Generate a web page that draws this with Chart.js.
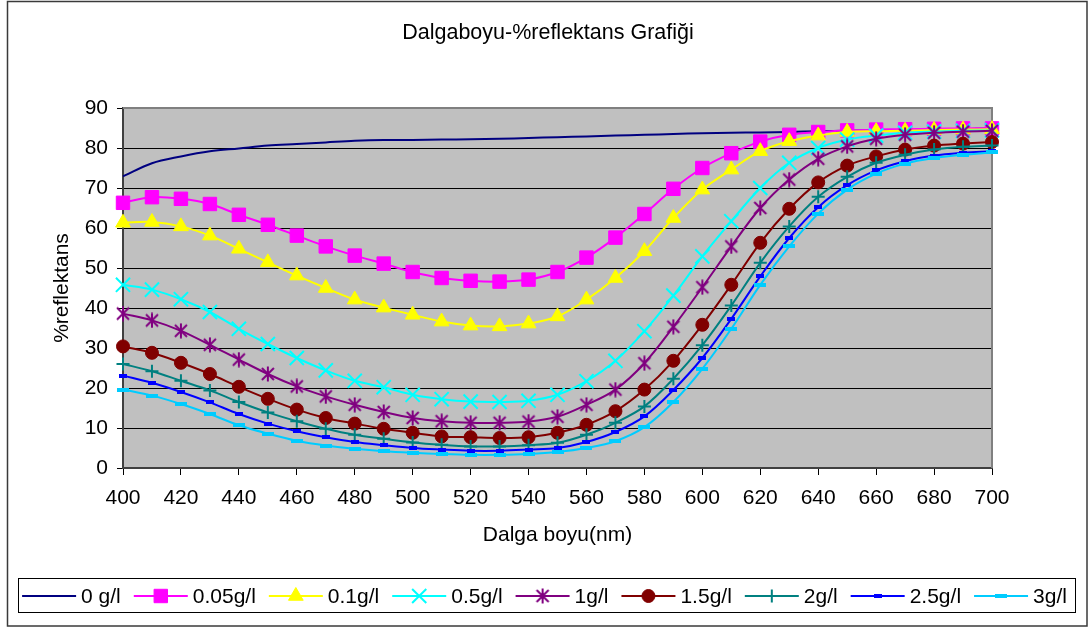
<!DOCTYPE html>
<html>
<head>
<meta charset="utf-8">
<title>Dalgaboyu-%reflektans Grafiği</title>
<script src="https://cdn.jsdelivr.net/npm/chart.js@4/dist/chart.umd.min.js"></script>
<style>
  html, body { margin: 0; padding: 0; background: #ffffff; }
  canvas { display: block; }
</style>
</head>
<body>
<canvas id="chart" width="1089" height="628"></canvas>
<script>
// Wavelengths (nm) measured every 10 nm
const wavelengths = [400, 410, 420, 430, 440, 450, 460, 470, 480, 490, 500,
                     510, 520, 530, 540, 550, 560, 570, 580, 590, 600,
                     610, 620, 630, 640, 650, 660, 670, 680, 690, 700];

const seriesLabels = ['0 g/l', '0.05g/l', '0.1g/l', '0.5g/l', '1g/l', '1.5g/l', '2g/l', '2.5g/l', '3g/l'];

const chartTitle = 'Dalgaboyu-%reflektans Grafiği';

// % reflectance per dye concentration
const refl0 = [72.9, 76.2, 77.9, 79.2, 79.9, 80.6, 81.0, 81.4, 81.8, 82.0, 82.0,
               82.1, 82.2, 82.3, 82.5, 82.7, 82.9, 83.1, 83.3, 83.5, 83.7,
               83.8, 83.9, 84.0, 84.2, 84.3, 84.4, 84.5, 84.6, 84.7, 84.9];
const refl005 = [66.3, 67.7, 67.3, 66.0, 63.3, 60.8, 58.1, 55.4, 53.1, 51.1, 49.0,
                 47.5, 46.8, 46.6, 47.1, 49.0, 52.6, 57.6, 63.5, 69.8, 75.0,
                 78.7, 81.6, 83.3, 84.0, 84.4, 84.6, 84.7, 84.8, 84.9, 84.9];
const refl01 = [61.3, 61.5, 60.4, 58.1, 54.8, 51.4, 48.1, 45.0, 42.1, 40.1, 38.3,
                36.6, 35.6, 35.4, 36.1, 37.9, 42.1, 47.5, 54.2, 62.5, 69.6,
                74.6, 79.2, 81.7, 83.1, 84.0, 84.2, 84.3, 84.5, 84.6, 84.7];
const refl05 = [45.8, 44.6, 42.2, 39.0, 34.8, 31.0, 27.5, 24.4, 21.8, 20.2, 18.3,
                17.2, 16.6, 16.5, 16.8, 18.3, 21.7, 26.8, 34.2, 43.1, 52.9,
                61.7, 70.0, 76.3, 80.0, 82.1, 83.1, 83.8, 84.1, 84.3, 84.4];
const refl1 = [38.6, 36.9, 34.3, 30.8, 27.1, 23.5, 20.4, 17.9, 15.8, 14.0, 12.5,
               11.7, 11.3, 11.3, 11.6, 12.8, 15.8, 19.6, 26.2, 35.3, 45.2,
               55.4, 65.0, 72.1, 77.3, 80.4, 82.3, 83.3, 83.8, 84.1, 84.3];
const refl15 = [30.4, 28.8, 26.3, 23.5, 20.3, 17.3, 14.6, 12.5, 11.1, 9.8, 8.8,
                7.9, 7.7, 7.5, 7.7, 8.8, 10.8, 14.2, 19.6, 26.8, 35.8,
                45.8, 56.3, 64.8, 71.4, 75.6, 77.9, 79.6, 80.6, 81.1, 81.5];
const refl2 = [26.0, 24.2, 21.8, 19.4, 16.5, 13.9, 11.7, 9.8, 8.3, 7.3, 6.4,
               5.8, 5.4, 5.4, 5.7, 6.3, 8.3, 11.3, 15.4, 22.3, 30.7,
               40.6, 51.3, 60.4, 67.8, 72.8, 76.3, 78.3, 79.6, 80.3, 80.6];
const refl25 = [23.1, 21.3, 19.0, 16.4, 13.5, 11.1, 9.2, 7.7, 6.5, 5.7, 5.0,
                4.6, 4.3, 4.3, 4.6, 5.0, 6.5, 9.0, 12.9, 19.5, 27.5,
                37.3, 47.9, 57.5, 65.2, 70.7, 74.4, 76.7, 78.1, 78.8, 79.2];
const refl3 = [19.6, 18.1, 16.0, 13.5, 10.7, 8.6, 6.8, 5.6, 4.8, 4.2, 3.8,
               3.5, 3.3, 3.3, 3.5, 4.0, 5.0, 6.7, 10.2, 16.5, 24.8,
               34.8, 45.8, 55.4, 63.6, 69.6, 73.6, 76.1, 77.5, 78.3, 78.9];

const seriesValues = [refl0, refl005, refl01, refl05, refl1, refl15, refl2, refl25, refl3];

const FONT = '"Liberation Sans", Arial, Helvetica, sans-serif';

// Small bitmap markers for styles Chart.js has no built-in shape for
function makeMarker(w, h, paint) {
  const c = document.createElement('canvas');
  c.width = w; c.height = h;
  paint(c.getContext('2d'), w, h);
  return c;
}
const starMarker = makeMarker(16, 16, (g) => {
  g.strokeStyle = '#800080';
  g.lineWidth = 2;
  g.beginPath();
  g.moveTo(2, 2); g.lineTo(14, 14);
  g.moveTo(14, 2); g.lineTo(2, 14);
  g.moveTo(8, 0.5); g.lineTo(8, 15.5);
  g.stroke();
});
const blueDash = makeMarker(8, 4, (g, w, h) => { g.fillStyle = '#0000FF'; g.fillRect(0, 0, w, h); });
const skyDash = makeMarker(12, 4, (g, w, h) => { g.fillStyle = '#00CCFF'; g.fillRect(0, 0, w, h); });

// Line colour and marker for each series
const seriesStyles = [
  { color: '#000080', pointStyle: false, radius: 0, markerWidth: 0 },
  { color: '#FF00FF', pointStyle: 'rect', radius: 9.5, markerWidth: 1 },
  { color: '#FFFF00', pointStyle: 'triangle', radius: 8.5, markerWidth: 1 },
  { color: '#00FFFF', pointStyle: 'crossRot', radius: 10, markerWidth: 2 },
  { color: '#800080', pointStyle: starMarker, radius: 8, markerWidth: 2 },
  { color: '#800000', pointStyle: 'circle', radius: 6.5, markerWidth: 1 },
  { color: '#008080', pointStyle: 'cross', radius: 6.5, markerWidth: 2 },
  { color: '#0000FF', pointStyle: blueDash, radius: 4, markerWidth: 0 },
  { color: '#00CCFF', pointStyle: skyDash, radius: 5, markerWidth: 0 }
];

const datasets = seriesLabels.map((label, i) => {
  const s = seriesStyles[i];
  return {
    label: label,
    data: wavelengths.map((w, k) => ({ x: w, y: seriesValues[i][k] })),
    borderColor: s.color,
    backgroundColor: s.color,
    borderWidth: 2,
    tension: 0.35,
    pointStyle: s.pointStyle === false ? 'circle' : s.pointStyle,
    pointRadius: s.radius,
    pointHoverRadius: s.radius,
    pointBackgroundColor: s.color,
    pointBorderColor: s.color,
    pointBorderWidth: s.markerWidth,
    clip: false,
    order: seriesLabels.length - i
  };
});

// White page, outer frame, title, grey plot area and its grey top/right edges
const frame = {
  id: 'frame',
  beforeDraw(chart) {
    const { ctx, chartArea: a } = chart;
    ctx.save();
    ctx.fillStyle = '#ffffff';
    ctx.fillRect(0, 0, chart.width, chart.height);
    ctx.strokeStyle = '#3a3a3a';
    ctx.lineWidth = 1.5;
    ctx.strokeRect(7.5, 1.5, 1079.5, 624.5);
    ctx.fillStyle = '#C0C0C0';
    ctx.fillRect(a.left, a.top, a.right - a.left, a.bottom - a.top);
    ctx.fillStyle = '#000000';
    ctx.font = '21.5px ' + FONT;
    ctx.textAlign = 'center';
    ctx.textBaseline = 'middle';
    ctx.fillText(chartTitle, 548, 33.5);
    ctx.restore();
  },
  beforeDatasetsDraw(chart) {
    const { ctx, chartArea: a } = chart;
    ctx.save();
    ctx.strokeStyle = '#808080';
    ctx.lineWidth = 2;
    ctx.beginPath();
    ctx.moveTo(a.left, a.top);
    ctx.lineTo(a.right, a.top);
    ctx.lineTo(a.right, a.bottom);
    ctx.stroke();
    ctx.restore();
  }
};

// Boxed legend below the axis: line sample with its marker, then the label
const boxedLegend = {
  id: 'boxedLegend',
  afterDraw(chart) {
    const { ctx } = chart;
    const sets = chart.data.datasets;
    const sampleLen = 54, textGap = 5, itemGap = 13, cy = 596;
    ctx.save();
    ctx.font = '21px ' + FONT;
    ctx.textBaseline = 'middle';
    ctx.textAlign = 'left';
    const widths = sets.map(d => ctx.measureText(d.label).width);
    let total = 0;
    widths.forEach(w => { total += sampleLen + textGap + w; });
    total += itemGap * (sets.length - 1);
    let x = chart.width / 2 - total / 2;

    ctx.strokeStyle = '#000000';
    ctx.lineWidth = 1;
    ctx.strokeRect(18.5, 578.5, 1057, 34);

    sets.forEach((d, i) => {
      const s = seriesStyles[i];
      ctx.strokeStyle = s.color;
      ctx.lineWidth = 2;
      ctx.beginPath();
      ctx.moveTo(x, cy);
      ctx.lineTo(x + sampleLen, cy);
      ctx.stroke();
      if (s.pointStyle !== false) {
        ctx.fillStyle = s.color;
        ctx.strokeStyle = s.color;
        ctx.lineWidth = s.markerWidth;
        Chart.helpers.drawPoint(ctx, {
          pointStyle: s.pointStyle,
          radius: s.radius,
          rotation: 0,
          borderWidth: s.markerWidth
        }, x + sampleLen / 2, cy);
      }
      ctx.fillStyle = '#000000';
      ctx.fillText(d.label, x + sampleLen + textGap, cy + 1);
      x += sampleLen + textGap + widths[i] + itemGap;
    });
    ctx.restore();
  }
};

new Chart(document.getElementById('chart'), {
  type: 'line',
  data: { datasets: datasets },
  plugins: [frame, boxedLegend],
  options: {
    responsive: false,
    animation: false,
    devicePixelRatio: 1,
    events: [],
    layout: { padding: { left: 0, right: 97, top: 108, bottom: 70 } },
    plugins: {
      legend: { display: false },
      tooltip: { enabled: false },
      title: { display: false }
    },
    scales: {
      x: {
        type: 'linear',
        min: 400,
        max: 700,
        afterFit(scale) { scale.height = 90; },
        ticks: {
          stepSize: 20,
          color: '#000000',
          font: { family: FONT, size: 21 },
          padding: 11,
          maxRotation: 0
        },
        grid: {
          drawOnChartArea: false,
          drawTicks: true,
          tickLength: 7,
          color: '#000000',
          tickColor: '#000000'
        },
        border: { display: true, color: '#404040', width: 2 },
        title: {
          display: true,
          text: 'Dalga boyu(nm)',
          color: '#000000',
          font: { family: FONT, size: 21 },
          padding: { top: 0, bottom: 10.4 }
        }
      },
      y: {
        min: 0,
        max: 90,
        afterFit(scale) { scale.width = 123; },
        ticks: {
          stepSize: 10,
          color: '#000000',
          font: { family: FONT, size: 21 },
          padding: 9
        },
        grid: {
          color: '#000000',
          lineWidth: 1,
          tickLength: 6,
          tickColor: '#000000'
        },
        border: { display: true, color: '#404040', width: 2 },
        title: {
          display: true,
          text: '%reflektans',
          color: '#000000',
          font: { family: FONT, size: 21 },
          padding: { top: 49.4, bottom: 0 }
        }
      }
    }
  }
});
</script>
</body>
</html>
